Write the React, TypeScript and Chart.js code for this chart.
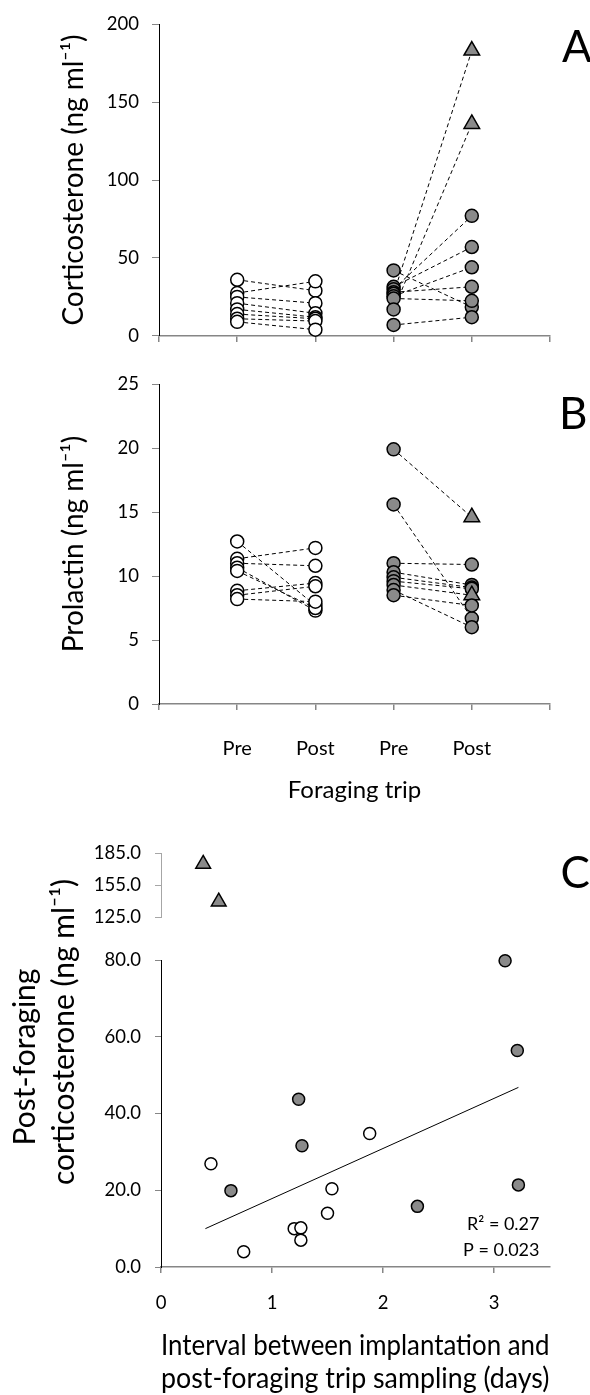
import React, { useEffect, useRef } from 'react';
import { Chart, registerables } from 'chart.js';

Chart.register(...registerables);

const FONT = 'Lato';
Chart.defaults.font.family = FONT;

// ---------- Shared category labels ----------
const categories = ['Pre', 'Post', 'Pre', 'Post'];

// ---------- Panel A: Corticosterone (ng ml-1) ----------
const corticoWhitePre = [36, 27.5, 25, 21, 17, 14, 11, 9];
const corticoWhitePost = [29, 35, 21, 14.5, 12, 11, 9.5, 4];
const corticoGreyPre = [42, 31.5, 30, 28, 27, 25.5, 24, 17, 7];
const corticoGreyPost = [18.5, 57, 77, 31.5, 183, 44, 22.5, 136, 12];
const corticoTriangles = [4, 7];
const corticoTicks = [0, 200, 50];

// ---------- Panel B: Prolactin (ng ml-1) ----------
const prolactinWhitePre = [12.7, 11.35, 11.0, 10.65, 10.4, 8.85, 8.5, 8.2];
const prolactinWhitePost = [7.7, 12.2, 10.8, 7.3, 7.5, 9.45, 9.2, 8.0];
const prolactinGreyPre = [19.9, 15.6, 11.0, 10.3, 9.9, 9.6, 9.3, 8.9, 8.5];
const prolactinGreyPost = [14.6, 6.7, 10.9, 9.3, 9.1, 9.0, 8.5, 6.0, 7.7];
const prolactinTriangles = [0, 6];
const prolactinTicks = [0, 25, 5];

// ---------- Panel C: post-foraging corticosterone vs interval ----------
const intervalWhite = [0.45, 1.88, 1.54, 1.5, 1.2, 1.26, 1.26, 0.745];
const cortWhite = [26.9, 34.8, 20.4, 14.0, 10.0, 10.2, 7.0, 4.0];
const intervalGrey = [3.1, 3.21, 1.24, 1.27, 0.63, 2.31, 3.22];
const cortGrey = [79.8, 56.4, 43.7, 31.6, 19.9, 15.8, 21.4];
const intervalHigh = [0.38, 0.52];
const cortHigh = [174.7, 139.4];
const trendX = [0.4, 3.22];
const trendY = [10.0, 46.8];
const lowerTicks = [0, 80, 20];
const upperTicks = [125, 185, 30];
const statsText = ['R\u00B2 = 0.27', 'P = 0.023'];
const cYTitle = ['Post-foraging', 'corticosterone (ng ml\u207B\u00B9)'];
const cXTitle = ['Interval between implantation and', 'post-foraging trip sampling (days)'];

const GREY = '#8a8a8a';
const AXIS_GREY = '#868686';

function letterPlugin(letter: string, dx: number, dy: number) {
  return {
    id: 'letter' + letter,
    afterDraw(chart: any) {
      const { ctx, chartArea } = chart;
      ctx.save();
      ctx.font = `44px ${FONT}`;
      ctx.fillStyle = '#000';
      ctx.textAlign = 'left';
      ctx.textBaseline = 'alphabetic';
      ctx.fillText(letter, chartArea.right + dx, chartArea.top + dy);
      ctx.restore();
    },
  };
}

function marker(x: number | number[], vals: number[], fill: string, tri: number[], r: number, tr: number) {
  return {
    type: 'scatter',
    data: vals.map((v, i) => ({ x: Array.isArray(x) ? x[i] : x, y: v })),
    backgroundColor: fill,
    borderColor: '#000',
    borderWidth: 1.5,
    pointStyle: (c: any) => (tri.includes(c.dataIndex) ? 'triangle' : 'circle'),
    pointRadius: (c: any) => (tri.includes(c.dataIndex) ? tr : r),
    showLine: false,
    clip: false,
    order: 0,
  };
}

function dashed(x1: number, y1: number, x2: number, y2: number) {
  return {
    type: 'line',
    data: [
      { x: x1, y: y1 },
      { x: x2, y: y2 },
    ],
    borderColor: '#000',
    borderWidth: 1,
    borderDash: [4, 3],
    pointRadius: 0,
    showLine: true,
    fill: false,
    clip: false,
    order: 10,
  };
}

function pairedConfig(p: {
  wPre: number[];
  wPost: number[];
  gPre: number[];
  gPost: number[];
  tri: number[];
  yTicks: number[];
  yTitle: string;
  showCats: boolean;
  letter: string;
  letterDx: number;
  letterDy: number;
  padTop: number;
  xHeight: number;
}): any {
  const datasets: any[] = [
    marker(1, p.wPre, '#fff', [], 6.5, 9),
    marker(2, p.wPost, '#fff', [], 6.5, 9),
    marker(3, p.gPre, GREY, [], 6.5, 9),
    marker(4, p.gPost, GREY, p.tri, 6.5, 9),
  ];
  p.wPre.forEach((v, i) => datasets.push(dashed(1, v, 2, p.wPost[i])));
  p.gPre.forEach((v, i) => datasets.push(dashed(3, v, 4, p.gPost[i])));
  return {
    type: 'scatter',
    data: { datasets },
    plugins: [letterPlugin(p.letter, p.letterDx, p.letterDy)],
    options: {
      responsive: false,
      animation: false,
      events: [],
      layout: { padding: { left: 0, right: 40, top: p.padTop, bottom: 0 } },
      plugins: { legend: { display: false }, tooltip: { enabled: false } },
      scales: {
        x: {
          type: 'linear',
          position: 'bottom',
          min: 0,
          max: 5,
          ticks: {
            stepSize: 1,
            display: p.showCats,
            color: '#000',
            padding: 27,
            font: { family: FONT, size: 20 },
            callback: (v: any) => categories[Number(v) - 1] ?? '',
          },
          grid: { drawOnChartArea: false, tickLength: 6, color: AXIS_GREY, lineWidth: 1.5 },
          border: { color: AXIS_GREY, width: 1.5 },
          title: {
            display: p.showCats,
            text: 'Foraging trip',
            color: '#000',
            font: { family: FONT, size: 24, lineHeight: 1.2 },
            padding: { top: 0, bottom: 15 },
          },
          afterFit: (s: any) => {
            s.height = p.xHeight;
          },
        },
        y: {
          type: 'linear',
          position: 'left',
          min: p.yTicks[0],
          max: p.yTicks[1],
          ticks: {
            stepSize: p.yTicks[2],
            autoSkip: false,
            color: '#000',
            padding: 13,
            font: { family: FONT, size: 18.5 },
          },
          grid: { drawOnChartArea: false, tickLength: 7, color: AXIS_GREY },
          border: { color: '#000', width: 1 },
          title: {
            display: true,
            text: p.yTitle,
            color: '#000',
            font: { family: FONT, size: 28, lineHeight: 1.2 },
            padding: { top: 57, bottom: 0 },
          },
          afterFit: (s: any) => {
            s.width = 159;
          },
        },
      },
    },
  };
}

const cPlugin = {
  id: 'cText',
  afterDraw(chart: any) {
    const { ctx, chartArea } = chart;
    ctx.save();
    ctx.fillStyle = '#000';
    ctx.font = `18px ${FONT}`;
    ctx.textAlign = 'right';
    ctx.textBaseline = 'middle';
    statsText.forEach((t, i) => ctx.fillText(t, chartArea.right - 10, chartArea.bottom - 43 + i * 26));
    ctx.translate(0, (chartArea.top + chartArea.bottom) / 2);
    ctx.rotate(-Math.PI / 2);
    ctx.textAlign = 'center';
    ctx.font = `30px ${FONT}`;
    const shifts = [3, 28];
    cYTitle.forEach((t, i) => ctx.fillText(t, shifts[i], 25 + i * 39));
    ctx.restore();
  },
};

function scatterConfig(): any {
  const tickFont = { family: FONT, size: 18.5 };
  return {
    type: 'scatter',
    data: {
      datasets: [
        { ...marker(intervalHigh, cortHigh, GREY, [0, 1], 6, 8.5), yAxisID: 'yTop' },
        { ...marker(intervalGrey, cortGrey, GREY, [], 6, 8.5), yAxisID: 'y' },
        { ...marker(intervalWhite, cortWhite, '#fff', [], 6, 8.5), yAxisID: 'y' },
        {
          type: 'line',
          yAxisID: 'y',
          data: trendX.map((x, i) => ({ x, y: trendY[i] })),
          borderColor: '#000',
          borderWidth: 1,
          pointRadius: 0,
          showLine: true,
          fill: false,
          order: 10,
        },
      ],
    },
    plugins: [letterPlugin('C', 11, 35), cPlugin],
    options: {
      responsive: false,
      animation: false,
      events: [],
      layout: { padding: { left: 0, right: 40.5, top: 33, bottom: 0 } },
      plugins: { legend: { display: false }, tooltip: { enabled: false } },
      scales: {
        x: {
          type: 'linear',
          position: 'bottom',
          min: 0,
          max: 3.5,
          afterBuildTicks: (s: any) => {
            s.ticks = s.ticks.filter((t: any) => Number.isInteger(t.value));
          },
          ticks: { stepSize: 1, color: '#000', padding: 19, font: tickFont },
          grid: { drawOnChartArea: false, tickLength: 6, color: AXIS_GREY, lineWidth: 1.5 },
          border: { color: AXIS_GREY, width: 1.5 },
          title: {
            display: true,
            text: cXTitle,
            color: '#000',
            font: { family: FONT, size: 28.5, lineHeight: 1.16 },
            padding: { top: 0, bottom: 0 },
          },
          afterFit: (s: any) => {
            s.height = 128;
          },
        },
        yTop: {
          type: 'linear',
          position: 'left',
          stack: 'c',
          stackWeight: 64,
          weight: 3,
          min: upperTicks[0],
          max: upperTicks[1],
          ticks: {
            stepSize: upperTicks[2],
            autoSkip: false,
            color: '#000',
            padding: 14,
            font: tickFont,
            callback: (v: any) => Number(v).toFixed(1),
          },
          grid: { drawOnChartArea: false, tickLength: 6, color: '#a6a6a6' },
          border: { color: '#a6a6a6', width: 1 },
          afterFit: (s: any) => {
            s.width = 161;
          },
        },
        yGap: {
          type: 'linear',
          position: 'left',
          stack: 'c',
          stackWeight: 43,
          weight: 2,
          display: false,
          min: 0,
          max: 1,
        },
        y: {
          type: 'linear',
          position: 'left',
          stack: 'c',
          stackWeight: 307,
          weight: 1,
          min: lowerTicks[0],
          max: lowerTicks[1],
          ticks: {
            stepSize: lowerTicks[2],
            autoSkip: false,
            color: '#000',
            padding: 14,
            font: tickFont,
            callback: (v: any) => Number(v).toFixed(1),
          },
          grid: { drawOnChartArea: false, tickLength: 6, color: AXIS_GREY },
          border: { color: '#000', width: 1 },
          afterFit: (s: any) => {
            s.width = 161;
          },
        },
      },
    },
  };
}

function ChartCanvas({ make, top, height }: { make: () => any; top: number; height: number }) {
  const ref = useRef<HTMLCanvasElement>(null);
  useEffect(() => {
    const chart = new Chart(ref.current as HTMLCanvasElement, make());
    return () => chart.destroy();
  }, []);
  return (
    <canvas
      ref={ref}
      width={590}
      height={height}
      style={{ position: 'absolute', left: 0, top, width: 590, height }}
    />
  );
}

export default function App() {
  return (
    <div style={{ position: 'absolute', left: 0, top: 0, width: 590, height: 1395, background: '#fff' }}>
      <ChartCanvas
        top={0}
        height={360}
        make={() =>
          pairedConfig({
            wPre: corticoWhitePre,
            wPost: corticoWhitePost,
            gPre: corticoGreyPre,
            gPost: corticoGreyPost,
            tri: corticoTriangles,
            yTicks: corticoTicks,
            yTitle: 'Corticosterone (ng ml\u207B\u00B9)',
            showCats: false,
            letter: 'A',
            letterDx: 12,
            letterDy: 38,
            padTop: 15,
            xHeight: 22,
          })
        }
      />
      <ChartCanvas
        top={360}
        height={460}
        make={() =>
          pairedConfig({
            wPre: prolactinWhitePre,
            wPost: prolactinWhitePost,
            gPre: prolactinGreyPre,
            gPost: prolactinGreyPost,
            tri: prolactinTriangles,
            yTicks: prolactinTicks,
            yTitle: 'Prolactin (ng ml\u207B\u00B9)',
            showCats: true,
            letter: 'B',
            letterDx: 9,
            letterDy: 45,
            padTop: 23,
            xHeight: 116,
          })
        }
      />
      <ChartCanvas top={820} height={575} make={scatterConfig} />
    </div>
  );
}
